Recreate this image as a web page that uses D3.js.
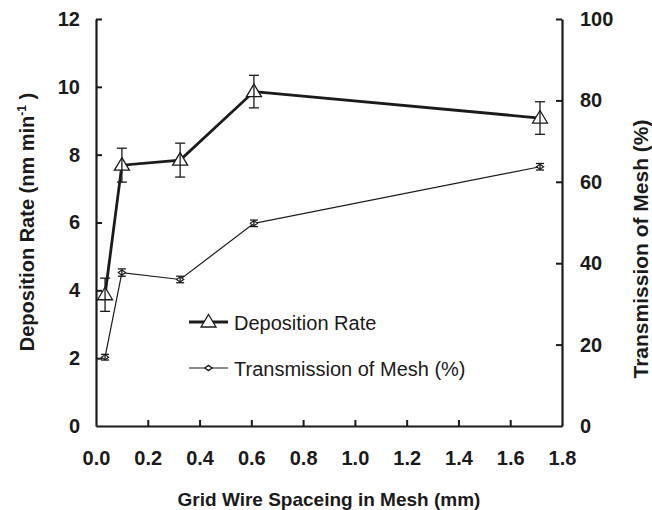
<!DOCTYPE html>
<html>
<head>
<meta charset="utf-8">
<script src="https://cdn.jsdelivr.net/npm/d3@7"></script>
<style>
  body { margin: 0; background: #fff; }
  svg { font-family: "Liberation Sans", Arial, Helvetica, sans-serif; }
</style>
</head>
<body>
<svg id="chart"></svg>
<script>
// data
const spacing = [0.035, 0.10, 0.325, 0.61, 1.715];          // mm
const depRate = [3.87, 7.69, 7.84, 9.86, 9.08];            // nm/min
const depErr = [0.49, 0.5, 0.5, 0.48, 0.48];
const transmission = [16.9, 37.7, 36.0, 49.8, 63.7];      // %
const transErr = [0.7, 0.9, 0.8, 0.8, 0.8];
const xTicks = [0, 0.2, 0.4, 0.6, 0.8, 1.0, 1.2, 1.4, 1.6, 1.8];
const leftTicks = [0, 2, 4, 6, 8, 10, 12];
const rightTicks = [0, 20, 40, 60, 80, 100];

const width = 652, height = 510;
const margin = { left: 96, right: 90, top: 19, bottom: 84 };
const ink = "#1c1a1a";

const svg = d3.select("#chart")
    .attr("width", width)
    .attr("height", height);

const xScale = d3.scaleLinear().domain([0, 1.8]).range([margin.left, width - margin.right]);
const yLeft = d3.scaleLinear().domain([0, 12]).range([height - margin.bottom, margin.top]);
const yRight = d3.scaleLinear().domain([0, 100]).range([height - margin.bottom, margin.top]);

// axes, ticks pointing inward
const xAxis = d3.axisBottom(xScale).tickValues(xTicks)
    .tickFormat(d3.format(".1f")).tickSizeInner(-6).tickSizeOuter(0).tickPadding(25);
const leftAxis = d3.axisLeft(yLeft).tickValues(leftTicks)
    .tickFormat(d3.format("d")).tickSizeInner(-6).tickSizeOuter(0).tickPadding(16);
const rightAxis = d3.axisRight(yRight).tickValues(rightTicks)
    .tickFormat(d3.format("d")).tickSizeInner(-6).tickSizeOuter(0).tickPadding(18);

function styleAxis(g) {
    g.select(".domain").attr("stroke", ink).attr("stroke-width", 2.2);
    g.selectAll(".tick line").attr("stroke", ink).attr("stroke-width", 2);
    g.selectAll(".tick text")
        .attr("fill", ink)
        .attr("font-size", 20)
        .attr("font-weight", "bold")
        .attr("font-family", "'Liberation Sans', Arial, sans-serif");
}

svg.append("g")
    .attr("transform", "translate(0," + (height - margin.bottom) + ")")
    .call(xAxis).call(styleAxis);
svg.append("g")
    .attr("transform", "translate(" + margin.left + ",0)")
    .call(leftAxis).call(styleAxis);
svg.append("g")
    .attr("transform", "translate(" + (width - margin.right) + ",0)")
    .call(rightAxis).call(styleAxis);

// hide the tick lines that sit on the frame corners
svg.selectAll(".tick").filter(d => d === 0 || d === 1.8).select("line").remove();

const depData = spacing.map((x, i) => ({ x: x, y: depRate[i], e: depErr[i] }));
const transData = spacing.map((x, i) => ({ x: x, y: transmission[i], e: transErr[i] }));

// lines
svg.append("path")
    .attr("d", d3.line().x(d => xScale(d.x)).y(d => yRight(d.y))(transData))
    .attr("fill", "none").attr("stroke", ink).attr("stroke-width", 1.2);
svg.append("path")
    .attr("d", d3.line().x(d => xScale(d.x)).y(d => yLeft(d.y))(depData))
    .attr("fill", "none").attr("stroke", ink).attr("stroke-width", 2.8);

const triangle = "M0,-7.5L7.5,5L-7.5,5Z";
const diamond = "M0,-2.6L3.6,0L0,2.6L-3.6,0Z";

// deposition markers + error bars
svg.selectAll(".dep-mark").data(depData).join("path")
    .attr("class", "dep-mark")
    .attr("d", triangle)
    .attr("transform", d => "translate(" + xScale(d.x) + "," + yLeft(d.y) + ")")
    .attr("fill", "#fff").attr("stroke", ink).attr("stroke-width", 1.3);

function errorBars(data, yScale, cap, cls) {
    const g = svg.selectAll("." + cls).data(data).join("g").attr("class", cls)
        .attr("stroke", ink).attr("stroke-width", 1.3);
    g.append("line")
        .attr("x1", d => xScale(d.x)).attr("x2", d => xScale(d.x))
        .attr("y1", d => yScale(d.y - d.e)).attr("y2", d => yScale(d.y + d.e));
    g.append("line")
        .attr("x1", d => xScale(d.x) - cap).attr("x2", d => xScale(d.x) + cap)
        .attr("y1", d => yScale(d.y + d.e)).attr("y2", d => yScale(d.y + d.e));
    g.append("line")
        .attr("x1", d => xScale(d.x) - cap).attr("x2", d => xScale(d.x) + cap)
        .attr("y1", d => yScale(d.y - d.e)).attr("y2", d => yScale(d.y - d.e));
}
errorBars(depData, yLeft, 5, "dep-err");

// transmission markers + error bars
svg.selectAll(".trans-mark").data(transData).join("path")
    .attr("class", "trans-mark")
    .attr("d", diamond)
    .attr("transform", d => "translate(" + xScale(d.x) + "," + yRight(d.y) + ")")
    .attr("fill", "#fff").attr("stroke", ink).attr("stroke-width", 1.2);
errorBars(transData, yRight, 4, "trans-err");

// legend
const legend = svg.append("g");
const legendRows = [
    { y: 322, label: "Deposition Rate", shape: triangle, w: 2.8 },
    { y: 368, label: "Transmission of Mesh (%)", shape: diamond, w: 1.2 }
];
legendRows.forEach(r => {
    legend.append("line")
        .attr("x1", 189).attr("x2", 228).attr("y1", r.y).attr("y2", r.y)
        .attr("stroke", ink).attr("stroke-width", r.w);
    legend.append("path").attr("d", r.shape)
        .attr("transform", "translate(208.5," + r.y + ")")
        .attr("fill", "#fff").attr("stroke", ink).attr("stroke-width", 1.3);
    legend.append("text")
        .attr("x", 234).attr("y", r.y + 7.5)
        .attr("font-size", 20).attr("fill", ink)
        .text(r.label);
});

// axis titles
svg.append("text")
    .attr("x", (margin.left + width - margin.right) / 2).attr("y", 506)
    .attr("text-anchor", "middle")
    .attr("font-size", 19).attr("font-weight", "bold").attr("fill", ink)
    .text("Grid Wire Spaceing in Mesh (mm)");

const leftTitle = svg.append("text")
    .attr("transform", "translate(34,222) rotate(-90)")
    .attr("text-anchor", "middle")
    .attr("font-size", 20).attr("font-weight", "bold").attr("fill", ink);
leftTitle.append("tspan").text("Deposition Rate (nm  min");
leftTitle.append("tspan").attr("dy", -8).attr("font-size", 12).text("-1");
leftTitle.append("tspan").attr("dy", 8).text(" )");

svg.append("text")
    .attr("transform", "translate(648,249) rotate(-90)")
    .attr("text-anchor", "middle")
    .attr("font-size", 21).attr("font-weight", "bold").attr("fill", ink)
    .text("Transmission of Mesh (%)");
</script>
</body>
</html>
